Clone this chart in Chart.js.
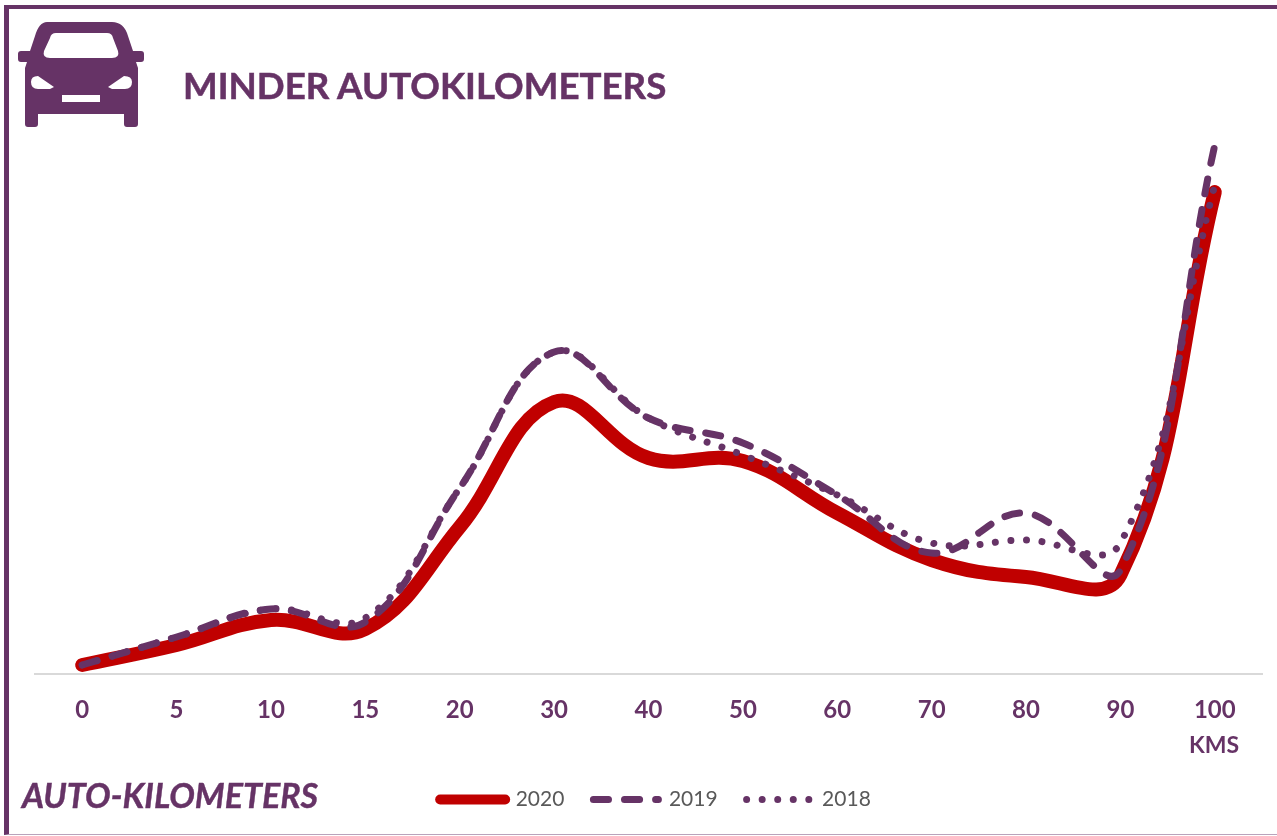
<!DOCTYPE html>
<html>
<head>
<meta charset="utf-8">
<script src="https://cdn.jsdelivr.net/npm/chart.js@4"></script>
<style>
  html, body { margin: 0; padding: 0; background: #fff; }
  body { width: 1277px; height: 836px; overflow: hidden; position: relative; font-family: Lato, sans-serif; color: #663366; }
  #frame { position: absolute; left: 4px; top: 5px; width: 1273px; height: 830px; box-sizing: border-box;
           border-top: 4px solid #663366; border-left: 5px solid #663366; border-bottom: 1px solid #b9a3bb; }
  #chart_box { position: absolute; left: 17px; top: 0; width: 1277px; height: 836px; }
  #car { position: absolute; left: 0; top: 0; }
  .txt { position: absolute; font-weight: 700; white-space: nowrap; }
  #title { left: 183px; top: 63px; font-size: 36.7px; line-height: 44px; -webkit-text-stroke: 0.5px #663366; }
  #sub { left: 22px; top: 775px; font-size: 34px; line-height: 40px; font-style: italic; -webkit-text-stroke: 0.4px #663366; }
  #kms { left: 1189px; top: 732px; font-size: 23px; line-height: 24px; }
</style>
</head>
<body>
<div id="frame"></div>
<div id="chart_box"><canvas id="km_chart" width="1277" height="836"></canvas></div>
<svg id="car" width="160" height="135" viewBox="0 0 160 135">
  <path fill="#663366" fill-rule="evenodd" d="M47 22 H112 Q124 22 128 36 L133 51 H141 Q144 51 144 54 V59 Q144 62 141 62 H136 L138 68 V124 Q138 127 135 127 H127 Q124 127 124 124 V114 H38 V124 Q38 127 35 127 H28 Q25 127 25 124 V68 L27 62 H21 Q18 62 18 59 V54 Q18 51 21 51 H30 L35 36 Q39 22 47 22 Z
    M56 33 Q51 33 50 38 L44 51 Q42 58 50 58 H112 Q120 58 118 51 L113 38 Q112 33 107 33 Z
    M38 76 Q31 76 31 82 Q31 89 38 89 H50 L54 87 Z
    M124 76 Q132 76 132 82 Q132 89 125 89 H112 L108 87 Z
    M62 95 V102 H100 V95 Z"/>
</svg>
<div id="title" class="txt">MINDER AUTOKILOMETERS</div>
<div id="sub" class="txt">AUTO-KILOMETERS</div>
<div id="kms" class="txt">KMS</div>

<script>
// km categories on the x axis
const km_labels = ["0", "5", "10", "15", "20", "30", "40", "50", "60", "70", "80", "90", "100"];

// values
const values_2020 = [9, 29, 54, 45, 147, 272, 216, 213, 161, 114, 97, 99, 482];
const values_2019 = [9, 37, 65, 52, 186, 322, 256, 231, 179, 121, 161, 104, 529];
const values_2018 = [9, 37, 65, 56, 186, 322, 256, 219, 179, 131, 134, 131, 489];

const purple = "#663366";
const red = "#C00000";
const dash_2019 = [15.1, 16];
const dots_2018 = [0.01, 15.54];

const km_datasets = [
  { label: "2020", data: values_2020, borderColor: red, borderWidth: 14, order: 3 },
  { label: "2019", data: values_2019, borderColor: purple, borderWidth: 7, borderDash: dash_2019, order: 2 },
  { label: "2018", data: values_2018, borderColor: purple, borderWidth: 7, borderDash: dots_2018, order: 1 }
];

// legend lines are a bit thinner than the chart lines for 2020
function legend_items(chart) {
  return chart.data.datasets.map((x, i) => ({
    text: x.label,
    fontColor: "#595959",
    strokeStyle: x.borderColor,
    fillStyle: x.borderColor,
    lineWidth: i == 0 ? 10 : 7,
    lineDash: x.borderDash || [],
    lineCap: "round",
    pointStyle: "line",
    datasetIndex: i
  }));
}

// the legend sits a little right of the middle in the original
const legend_shift = {
  id: "legend_shift",
  afterLayout(chart) {
    chart.legend.left += 7;
    chart.legend.right += 7;
  }
};

const km_chart = new Chart(document.getElementById("km_chart"), {
  type: "line",
  data: { labels: km_labels, datasets: km_datasets },
  plugins: [legend_shift],
  options: {
    responsive: false,
    animation: false,
    layout: { padding: { left: 18, right: 32, top: 10, bottom: 16 } },
    datasets: {
      line: { tension: 0.4, pointRadius: 0, borderCapStyle: "round", borderJoinStyle: "round", clip: false, fill: false }
    },
    scales: {
      x: {
        offset: true,
        grid: { display: false, drawTicks: false },
        border: { display: true, color: "#d9d9d9", width: 2 },
        ticks: { color: purple, padding: 22, maxRotation: 0, autoSkip: false, font: { family: "Lato", size: 24, weight: "bold" } },
        afterFit: function (scale) { scale.height = 86; }
      },
      y: { display: false, min: 0, max: 664 }
    },
    plugins: {
      tooltip: { enabled: false },
      title: { display: false },
      legend: {
        position: "bottom",
        labels: {
          usePointStyle: true,
          pointStyleWidth: 65,
          padding: 29,
          font: { family: "Lato", size: 21 },
          generateLabels: legend_items
        }
      }
    }
  }
});
</script>
</body>
</html>
